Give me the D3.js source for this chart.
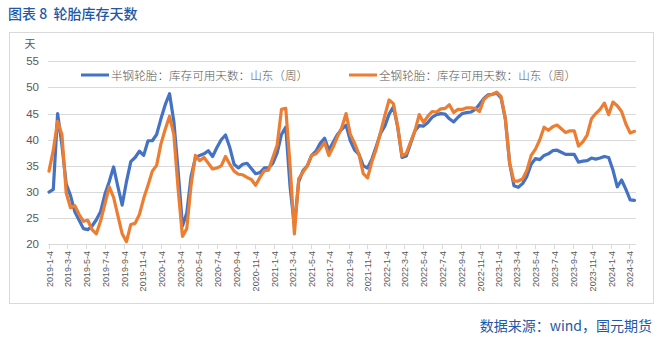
<!DOCTYPE html>
<html><head><meta charset="utf-8">
<script src="https://cdn.jsdelivr.net/npm/d3@7"></script>
<style>body{margin:0;background:#fff}svg{display:block}</style>
</head><body><svg id="c" width="662" height="341"></svg>
<script>
const title = "图表 8  轮胎库存天数";
const source = "数据来源：wind，国元期货";
const yUnit = "天";
const seriesNames = ["半钢轮胎：库存可用天数：山东（周）", "全钢轮胎：库存可用天数：山东（周）"];
const startDate = "2019-01-04";   // observations every two weeks
const stepDays = 14;
const semiSteel = [
  30, 30.5, 45, 39, 31.5, 29.3, 26.2, 24.6, 23, 22.8,
  23.5, 24.7, 26.3, 29.6, 32, 34.8, 31, 27.5, 32, 35.8,
  36.6, 37.8, 37, 39.8, 39.8, 41, 44, 46.7, 48.8, 43.5,
  34, 23.5, 26, 33, 36.5, 37, 37.3, 37.9, 36.8, 38.5,
  40, 40.9, 38.5, 35.3, 34.6, 35.3, 35.5, 34.5, 33.5, 33.7,
  34.6, 34.6, 35.5, 37.5, 41, 42.4, 31, 23.5, 32, 34.1,
  35, 37, 37.8, 39.3, 40.3, 38, 39.5, 41, 42, 42.8,
  39.8, 38, 37.2, 35, 34.6, 36.3, 38.7, 41.2, 42.6, 44.9,
  46.3, 42.4, 36.6, 36.9, 39.3, 41.7, 42.7, 42.6, 43.3, 44.3,
  44.8, 45, 44.9, 44, 43.4, 44.3, 45, 45.2, 45.3, 45.8,
  46.8, 47.9, 48.6, 48.7, 48.9, 48, 44, 35.5, 31.2, 30.9,
  31.6, 33, 35.3, 36.4, 36.2, 37, 37.3, 37.9, 38, 37.6,
  37.2, 37.2, 37.2, 35.7, 35.9, 36, 36.5, 36.3, 36.5, 36.8,
  36.6, 34.2, 31, 32.3, 30.5, 28.5, 28.4
];
const allSteel = [
  34, 38, 43.5, 41, 29.8, 27, 27.4, 25.7, 24.4, 24.6,
  22.8, 22, 24.5, 27.8, 31, 29, 25.5, 22, 20.5, 23.8,
  24, 25.7, 28.8, 31.3, 34, 35.1, 39.2, 42, 44.5, 41,
  30.5, 21.5, 23, 31.3, 37, 36, 36.6, 35.5, 34.4, 34.6,
  35, 36.8, 35.3, 34, 33.4, 33.3, 32.8, 32.4, 31.3, 32.8,
  34.1, 34.2, 36.6, 39, 45.8, 46, 35, 22, 32.5, 33.8,
  35, 37, 37.3, 38.3, 39.5, 37, 38.6, 40.6, 42.3, 45,
  41, 39.3, 37.2, 33.5, 32.7, 35.8, 38.2, 41.4, 44.6, 47.6,
  46.9, 42.5, 36.9, 37.4, 39.6, 41.7, 44.8, 43.3, 44.5, 45.4,
  45.3, 45.9, 46, 46.7, 45.2, 45.8, 45.8, 46.1, 46.1, 46,
  45.4, 47.7, 48.4, 48.7, 49.1, 48.3, 44, 35.5, 32.1, 32.1,
  32.5, 34.1, 37, 38.2, 40, 42.4, 41.8, 42.5, 42.8, 42.1,
  41.4, 41.7, 41.7, 38.8, 39.6, 40.9, 44, 45, 45.8, 47,
  44.8, 47.2, 46.5, 45.4, 43, 41.3, 41.6
];
const yTicks = [20, 25, 30, 35, 40, 45, 50, 55];
const xTickLabels = [
  "2019-1-4","2019-3-4","2019-5-4","2019-7-4","2019-9-4","2019-11-4",
  "2020-1-4","2020-3-4","2020-5-4","2020-7-4","2020-9-4","2020-11-4",
  "2021-1-4","2021-3-4","2021-5-4","2021-7-4","2021-9-4","2021-11-4",
  "2022-1-4","2022-3-4","2022-5-4","2022-7-4","2022-9-4","2022-11-4",
  "2023-1-4","2023-3-4","2023-5-4","2023-7-4","2023-9-4","2023-11-4",
  "2024-1-4","2024-3-4"
];
const colors = ["#4472C4", "#ED7D31"];

const svg = d3.select("#c");
const parse = d3.timeParse("%Y-%m-%d");
const parseTick = d3.timeParse("%Y-%-m-%-d");
const t0 = parse(startDate);
const dates = semiSteel.map((_, i) => d3.timeDay.offset(t0, i * stepDays));

const x = d3.scaleTime().domain([t0, dates[dates.length - 1]]).range([49, 634.5]);
const y = d3.scaleLinear().domain([20, 55]).range([244.3, 61.3]);
const plotL = 48, plotR = 636;

// frame
svg.append("rect").attr("x", 9.5).attr("y", 32.5).attr("width", 644).attr("height", 271)
  .attr("fill", "none").attr("stroke", "#d9d9d9").attr("stroke-width", 1);

// title
svg.append("text").attr("x", 8).attr("y", 12.5).attr("dominant-baseline", "central")
  .attr("font-family", "'Noto Sans CJK SC', sans-serif").attr("font-size", 14)
  .attr("font-weight", 500).attr("fill", "#2358a6").attr("xml:space", "preserve").text(title);

// source
svg.append("text").attr("x", 652).attr("y", 325).attr("dominant-baseline", "central")
  .attr("text-anchor", "end")
  .attr("font-family", "'Noto Sans CJK SC', sans-serif").attr("font-size", 14)
  .attr("fill", "#2358a6").text(source);

// gridlines
svg.append("g").selectAll("line").data(yTicks).join("line")
  .attr("x1", plotL).attr("x2", plotR)
  .attr("y1", d => Math.round(y(d)) + 0.5).attr("y2", d => Math.round(y(d)) + 0.5)
  .attr("stroke", "#d9d9d9").attr("stroke-width", 1);

// y labels
svg.append("g").selectAll("text").data(yTicks).join("text")
  .attr("x", 39).attr("y", d => y(d)).attr("dominant-baseline", "central")
  .attr("text-anchor", "end").attr("font-family", "'Liberation Sans', Arial, sans-serif")
  .attr("font-size", 11.5).attr("fill", "#595959").text(d => d);

svg.append("text").attr("x", 30).attr("y", 43).attr("dominant-baseline", "central")
  .attr("text-anchor", "middle").attr("font-family", "'Noto Sans CJK SC', sans-serif")
  .attr("font-size", 11).attr("fill", "#595959").text(yUnit);

// x ticks & labels
const xg = svg.append("g");
xTickLabels.forEach(lbl => {
  const px = Math.round(x(parseTick(lbl))) + 0.5;
  xg.append("line").attr("x1", px).attr("x2", px).attr("y1", 244.5).attr("y2", 249)
    .attr("stroke", "#d9d9d9");
  xg.append("text").attr("transform", `translate(${px},251) rotate(-90)`)
    .attr("text-anchor", "end").attr("dy", "0.35em")
    .attr("font-family", "'Liberation Sans', Arial, sans-serif").attr("font-size", 9)
    .attr("fill", "#595959").text(lbl);
});

// lines
const line = d3.line().x((d, i) => x(dates[i])).y(d => y(d)).curve(d3.curveLinear);
[semiSteel, allSteel].forEach((s, i) => {
  svg.append("path").datum(s).attr("d", line).attr("fill", "none")
    .attr("stroke", colors[i]).attr("stroke-width", 3.2)
    .attr("stroke-linejoin", "round").attr("stroke-linecap", "round");
});

// legend
const legX = [81, 349];
seriesNames.forEach((n, i) => {
  svg.append("line").attr("x1", legX[i]).attr("x2", legX[i] + 28).attr("y1", 75).attr("y2", 75)
    .attr("stroke", colors[i]).attr("stroke-width", 3);
  svg.append("text").attr("x", legX[i] + 30).attr("y", 75).attr("dominant-baseline", "central")
    .attr("font-family", "'Noto Sans CJK SC', sans-serif").attr("font-size", 11.6)
    .attr("font-weight", 300).attr("fill", "#595959").text(n);
});
</script></body></html>
